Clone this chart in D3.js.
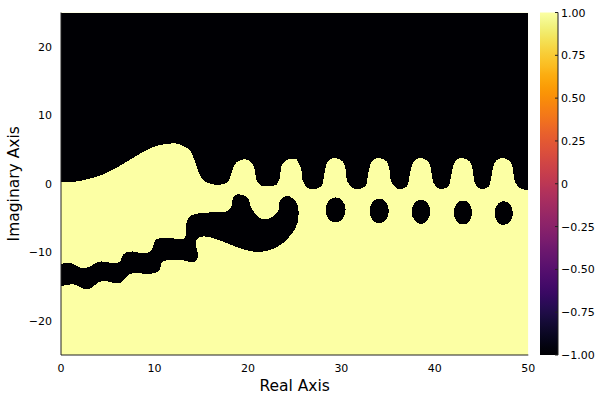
<!DOCTYPE html>
<html><head><meta charset="utf-8">
<script src="https://cdn.jsdelivr.net/npm/d3@7"></script>
<style>body{margin:0;background:#fff}svg{display:block}text{font-family:"DejaVu Sans",sans-serif;fill:#000}</style>
</head><body><div id="chart"></div>
<script>
// ---- data ----
const xDomain = [0, 50];
const yDomain = [-25, 25];
const colorDomain = [-1, 1];
const xTicks = [0, 10, 20, 30, 40, 50];
const yTicks = [-20, -10, 0, 10, 20];
const cbTicks = [1, 0.75, 0.5, 0.25, 0, -0.25, -0.5, -0.75, -1];
const cbLabels = ["1.00", "0.75", "0.50", "0.25", "0", "\u22120.25", "\u22120.50", "\u22120.75", "\u22121.00"];
const backgroundValue = 1;   // yellow
const regionValue = -1;      // black
// boundary of upper region (value -1 above this curve)
const topBoundary = [
  [0,0.19],[1.5,0.3],[2.92,0.69],[4.7,1.46],[6.49,2.77],[8.26,4.23],[10.04,5.45],[11.46,5.84],[12.5,5.84],
  [13.2,5.4],[13.78,4.96],[14.13,3.99],[14.5,2.53],[14.85,1.31],[15.38,0.34],[16.1,-0.04],[16.81,-0.15],
  [17.7,0.1],[18.06,0.83],[18.41,2.29],[18.77,3.1],[19.31,3.5],[19.95,3.5],[20.44,3.02],[20.73,2.04],
  [20.97,0.34],[21.44,-0.29],[22.15,-0.39],[23.04,-0.15],[23.4,0.83],[23.58,2.53],[23.93,3.26],[24.47,3.61],
  [25.18,3.61],[25.35,3.26],[25.72,2.04],[25.89,0.34],[26.42,-0.63],[27.05,-0.77],
  [27.85,-0.39],[28.13,1.07],[28.39,2.77],[28.74,3.5],[29.38,3.75],[30.13,3.26],[30.45,2.04],[30.63,0.34],[31.2,-0.63],[31.73,-0.77],
  [32.55,-0.39],[32.83,1.07],[33.09,2.77],[33.44,3.5],[34.08,3.75],[34.83,3.26],[35.15,2.04],[35.33,0.34],[35.9,-0.63],[36.31,-0.77],
  [37.01,-0.39],[37.29,1.07],[37.55,2.77],[37.9,3.5],[38.54,3.75],[39.29,3.26],[39.61,2.04],[39.79,0.34],[40.3,-0.63],[40.76,-0.77],
  [41.45,-0.39],[41.73,1.07],[41.99,2.77],[42.34,3.5],[42.98,3.75],[43.73,3.26],[44.05,2.04],[44.23,0.34],[44.7,-0.63],[45.14,-0.77],
  [45.77,-0.39],[46.05,1.07],[46.31,2.77],[46.66,3.5],[47.3,3.75],[48.05,3.26],[48.37,2.04],[48.55,0.34],[49.1,-0.63],[49.6,-0.85],[50,-0.88]
];
// outline of the lower-left band (value -1 inside)
const bandBoundary = [
  [0,-11.72],[0.78,-11.49],[1.31,-11.72],[2.03,-12.22],[2.56,-12.31],[3.28,-11.97],[3.81,-11.49],[4.35,-11.34],
  [5.05,-11.49],[5.77,-11.58],[6.3,-11.34],[6.66,-10.36],[7.02,-10.03],[7.72,-9.88],[8.44,-10.12],[9.33,-10.03],
  [9.69,-9.64],[9.97,-8.66],[10.22,-8.07],[11.11,-7.93],[12.71,-8.03],[13.25,-7.93],[13.43,-5.74],[13.78,-4.77],
  [14.5,-4.38],[15.92,-4.19],[17.7,-4.04],[18.24,-3.31],[18.41,-2.09],[18.77,-1.61],[19.31,-1.61],[20.01,-2.09],
  [20.37,-3.55],[20.91,-4.53],[21.61,-5.2],[22.51,-4.9],[23.22,-4.04],[23.4,-2.58],[23.93,-1.85],[24.47,-1.85],
  [25.11,-2.58],[25.4,-3.8],[25.3,-5.74],[24.75,-7.2],[23.75,-8.66],[22.68,-9.53],[21.61,-9.9],[20.54,-9.9],
  [19.12,-9.39],[17.7,-8.66],[16.27,-7.93],[15.2,-7.69],[14.67,-7.93],[14.42,-8.42],[14.5,-9.39],[14.67,-10.36],
  [14.55,-11.1],[14.2,-11.45],[13.7,-11.4],[13.2,-11.2],[12.18,-11.2],[11.11,-11.24],[10.76,-11.58],[10.58,-12.55],
  [10.04,-13.04],[8.97,-13.14],[7.91,-13.04],[7.19,-13.28],[6.84,-13.91],[6.3,-14.5],[5.42,-14.41],[4.7,-14.16],
  [3.99,-14.41],[3.45,-14.99],[2.92,-15.37],[2.21,-15.23],[1.5,-14.74],[0.78,-14.74],[0,-14.99]
];
// isolated ovals (value -1)
const ovalX  = [29.38, 34.05, 38.52, 43.0, 47.37];
const ovalY  = [-3.82, -3.97, -4.09, -4.2, -4.29];
const ovalRX = [1.07, 1.03, 0.99, 0.98, 0.98];
const ovalRY = [1.82, 1.78, 1.75, 1.75, 1.72];

// ---- layout ----
const W = 600, H = 400;
const plot = {left: 61, right: 528.3, top: 12.5, bottom: 355};
const cb = {left: 540, right: 558};

const x = d3.scaleLinear().domain(xDomain).range([plot.left, plot.right]);
const y = d3.scaleLinear().domain(yDomain).range([plot.bottom, plot.top]);
const c = d3.scaleSequential(d3.interpolateInferno).domain(colorDomain);
const cy = d3.scaleLinear().domain(colorDomain).range([plot.bottom, plot.top]);

const svg = d3.select("#chart").append("svg").attr("width", W).attr("height", H);
svg.append("rect").attr("width", W).attr("height", H).attr("fill", "#fff");

const defs = svg.append("defs");
defs.append("clipPath").attr("id", "clip").append("rect")
  .attr("x", plot.left).attr("y", plot.top)
  .attr("width", plot.right - plot.left).attr("height", plot.bottom - plot.top);

const g = svg.append("g").attr("clip-path", "url(#clip)");
g.append("rect").attr("x", plot.left).attr("y", plot.top)
  .attr("width", plot.right - plot.left).attr("height", plot.bottom - plot.top)
  .attr("fill", c(backgroundValue));

const topArea = d3.area().x(d => x(d[0])).y0(y(yDomain[1])).y1(d => y(d[1])).curve(d3.curveCatmullRom.alpha(0.5));
g.append("path").attr("d", topArea(topBoundary)).attr("fill", c(regionValue)).attr("shape-rendering", "crispEdges");

const bandLine = d3.line().x(d => x(d[0])).y(d => y(d[1])).curve(d3.curveCatmullRom.alpha(0.5));
g.append("path").attr("d", bandLine(bandBoundary) + "Z").attr("fill", c(regionValue)).attr("shape-rendering", "crispEdges");

g.selectAll("ellipse.oval").data(ovalX.map((v, i) => i)).enter().append("ellipse")
  .attr("cx", i => x(ovalX[i])).attr("cy", i => y(ovalY[i]))
  .attr("rx", i => x(ovalX[i] + ovalRX[i]) - x(ovalX[i]))
  .attr("ry", i => y(ovalY[i]) - y(ovalY[i] + ovalRY[i]))
  .attr("fill", c(regionValue)).attr("shape-rendering", "crispEdges");

// axes
const fmt = d3.format("d");
svg.append("line").attr("x1", plot.left).attr("x2", plot.right).attr("y1", plot.bottom).attr("y2", plot.bottom)
  .attr("stroke", "#222").attr("stroke-width", 1);
svg.append("line").attr("x1", plot.left).attr("x2", plot.left).attr("y1", plot.top).attr("y2", plot.bottom)
  .attr("stroke", "#222").attr("stroke-width", 1);

svg.selectAll("text.xt").data(xTicks).enter().append("text")
  .attr("x", d => x(d)).attr("y", 372).attr("text-anchor", "middle").attr("font-size", 11).text(fmt);
svg.selectAll("text.yt").data(yTicks).enter().append("text")
  .attr("x", 52).attr("y", d => y(d) + 4).attr("text-anchor", "end").attr("font-size", 11).text(fmt);

svg.append("text").attr("x", (plot.left + plot.right) / 2).attr("y", 391).attr("text-anchor", "middle")
  .attr("font-size", 15.5).text("Real Axis");
svg.append("text").attr("transform", `translate(19,${(plot.top + plot.bottom) / 2}) rotate(-90)`)
  .attr("text-anchor", "middle").attr("font-size", 15.5).text("Imaginary Axis");

// colorbar
const grad = defs.append("linearGradient").attr("id", "cbgrad").attr("x1", 0).attr("y1", 1).attr("x2", 0).attr("y2", 0);
d3.range(0, 1.0001, 0.02).forEach(t => {
  grad.append("stop").attr("offset", t).attr("stop-color", d3.interpolateInferno(t));
});
svg.append("rect").attr("x", cb.left).attr("y", cy(1)).attr("width", cb.right - cb.left)
  .attr("height", cy(-1) - cy(1)).attr("fill", "url(#cbgrad)");
svg.append("line").attr("x1", cb.right).attr("x2", cb.right).attr("y1", cy(1)).attr("y2", cy(-1))
  .attr("stroke", "#222").attr("stroke-width", 1);
svg.selectAll("line.cbt").data(cbTicks).enter().append("line")
  .attr("x1", cb.right - 3).attr("x2", cb.right).attr("y1", d => cy(d)).attr("y2", d => cy(d))
  .attr("stroke", "#222").attr("stroke-width", 1);
svg.selectAll("text.cbl").data(cbTicks).enter().append("text")
  .attr("x", cb.right + 3).attr("y", d => cy(d) + 4).attr("text-anchor", "start").attr("font-size", 11)
  .text((d, i) => cbLabels[i]);
</script></body></html>
